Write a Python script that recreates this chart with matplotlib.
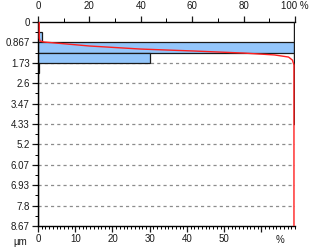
"""Particle size histogram with cumulative curve."""

import matplotlib.pyplot as plt
import numpy as np
from matplotlib.ticker import MultipleLocator

plt.rcParams['font.family'] = ['Liberation Sans', 'DejaVu Sans']

# Histogram bins (um) and frequency (%)
bin_edges = np.round(np.linspace(0, 8.67, 21), 3)
freq = [0, 1.2, 75, 30, 0.3, 0, 0, 0, 0, 0, 0, 0, 0, 0, 0, 0, 0, 0, 0, 0]

# Cumulative curve (%) vs size (um)
cum_size = [0, 0.68, 0.81, 0.85, 1.02, 1.15, 1.23, 1.32, 1.40, 1.49, 1.62, 1.83, 8.67]
cum_pct = [0.5, 0.5, 0.8, 2.3, 20, 40, 60, 80, 92, 97.5, 99, 99.6, 99.6]

y_ticks = [0, 0.867, 1.73, 2.6, 3.47, 4.33, 5.2, 6.07, 6.93, 7.8, 8.67]
y_labels = ["0", "0.867", "1.73", "2.6", "3.47", "4.33", "5.2", "6.07", "6.93", "7.8", "8.67"]
top_ticks = [0, 20, 40, 60, 80, 100]
top_labels = ["0", "20", "40", "60", "80", "100 %"]
bottom_ticks = [0, 10, 20, 30, 40, 50, 60]
bottom_labels = ["0", "10", "20", "30", "40", "50", ""]

fig = plt.figure(figsize=(3.15, 2.5), dpi=100)
ax = fig.add_axes([0.1206, 0.096, 0.8159, 0.816])

# grid lines
for yv in y_ticks[2:-1]:
    ax.axhline(yv, color='#8c8c8c', lw=0.9, ls=(0, (2.5, 2.5)), zorder=1)

heights = np.diff(bin_edges)
ax.barh(bin_edges[:-1], freq, height=heights, align='edge', color='#94c6fb',
        edgecolor='#1a1a1a', lw=0.9, zorder=2)

ax.set_xlim(0, 69)
ax.set_ylim(8.67, 0)
ax.set_yticks(y_ticks)
ax.set_yticklabels(y_labels)
ax.yaxis.set_minor_locator(MultipleLocator(0.4335))
ax.set_xticks(bottom_ticks)
ax.set_xticklabels(bottom_labels)
ax.xaxis.set_minor_locator(MultipleLocator(1))
ax.tick_params(axis='both', labelsize=7, colors='#1a1a1a', length=4, width=0.9, pad=2)
ax.tick_params(axis='both', which='minor', length=2, width=0.7)
ax.spines['right'].set_visible(False)
ax.spines['top'].set_visible(False)
for s in ['left', 'bottom']:
    ax.spines[s].set_linewidth(1.0)
ax.text(65, 9.05, "%", fontsize=7, ha='center', va='top', color='#1a1a1a')
fig.text(0.041, 0.032, "µm", fontsize=7, ha='left', va='center', color='#1a1a1a')

# top cumulative axis
ax2 = ax.twiny()
ax2.set_xlim(0, 100)
ax2.set_ylim(8.67, 0)
ax2.plot(cum_pct, cum_size, color='#ff2020', lw=1.0, zorder=4)
ax2.plot([99.6, 99.6], [0, 4.33], color='#1a1a1a', lw=1.0, zorder=3)
ax2.set_xticks(top_ticks)
ax2.set_xticklabels(top_labels)
ax2.xaxis.set_minor_locator(MultipleLocator(10))
ax2.tick_params(axis='x', labelsize=7, colors='#1a1a1a', length=4, width=0.9, pad=4)
ax2.tick_params(axis='x', which='minor', length=3, width=0.7)
for s in ['left', 'right', 'bottom']:
    ax2.spines[s].set_visible(False)
ax2.spines['top'].set_linewidth(1.0)

plt.savefig("out.png", dpi=100)
